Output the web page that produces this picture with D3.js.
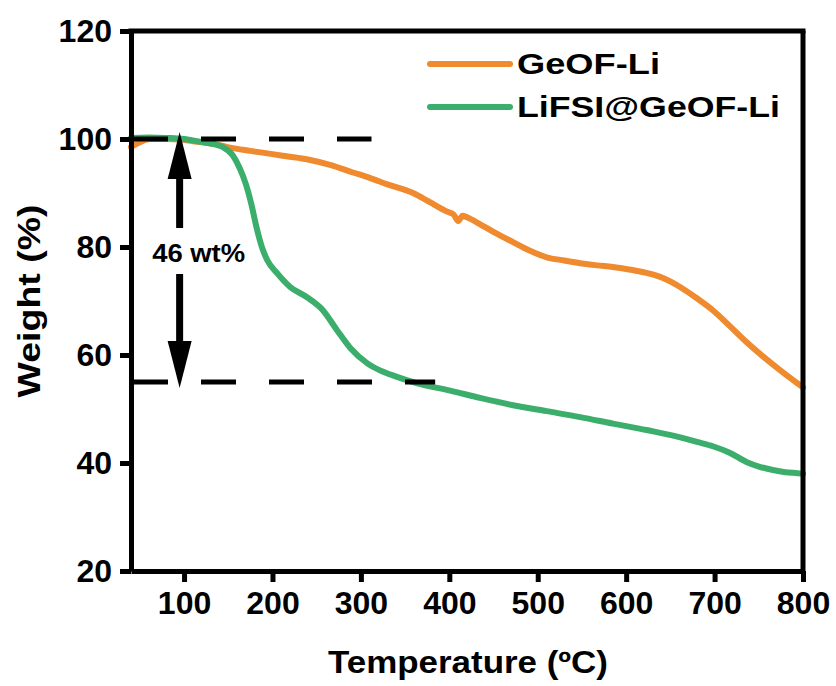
<!DOCTYPE html>
<html><head><meta charset="utf-8">
<script src="https://cdn.jsdelivr.net/npm/d3@7"></script>
<style>body{margin:0;background:#fff}svg{display:block}text{font-family:"Liberation Sans",Arial,sans-serif;font-weight:bold}</style>
</head><body><svg id="c" width="836" height="686"></svg>
<script>
const xTicks = [100,200,300,400,500,600,700,800];
const yTicks = [20,40,60,80,100,120];
const seriesNames = ["GeOF-Li","LiFSI@GeOF-Li"];
const seriesColors = ["#EF8A2E","#3CAE6C"];
const geofT = [40,50,61,80,95,110,125,137,152,175,200,216,240,265,291,310,330,359,378,397,405,410,415,420,434,452,472,490,510,530,548,567,585,605,623,641,661,680,698,717,736,755,774,790,800];
const geofW = [98.5,99.4,100.0,100.0,99.9,99.6,99.3,99.0,98.4,97.8,97.2,96.8,96.2,95.2,93.8,92.8,91.6,90.0,88.3,86.6,86.0,84.8,85.8,85.5,84.3,82.6,80.9,79.4,78.1,77.5,77.0,76.6,76.3,75.8,75.2,74.3,72.6,70.5,68.3,65.4,62.4,59.7,57.2,55.2,54.0];
const lifsiT = [40,60,80,100,118,135,144,155,163,170,176,182,188,194,205,220,239,257,273,288,307,321,340,363,401,436,472,510,548,585,623,660,680,698,717,736,751,766,780,794,800];
const lifsiW = [100.2,100.3,100.2,100.0,99.5,99.0,98.5,97.0,94.6,91.6,88.0,83.6,80.0,77.6,75.2,72.6,70.7,68.3,64.6,61.3,58.5,57.2,56.0,54.8,53.4,52.0,50.7,49.6,48.5,47.3,46.1,44.8,43.9,43.1,41.9,40.2,39.3,38.7,38.3,38.1,38.0];
const dashTop = {t:[40,312], w:100};
const dashBottom = {t:[40,384], w:55};
const arrowT = 95, arrowFrom = 100, arrowTo = 55;
const lossLabel = "46 wt%";

const svg = d3.select("#c");
const m = {l:131,r:33,t:31,b:115};
const W = 836-m.l-m.r, H = 686-m.t-m.b;
const x = d3.scaleLinear().domain([40,800]).range([m.l, m.l+W]);
const y = d3.scaleLinear().domain([20,120]).range([m.t+H, m.t]);

// text placed at (px,py), rotated by rot, stretched horizontally to target width
function fitText(parent, str, px, py, size, target, anchor, rot){
  const t = parent.append("text").attr("font-size",size).attr("text-anchor",anchor||"start").text(str);
  const w = t.node().getComputedTextLength();
  const s = target / w;
  t.attr("transform",`translate(${px},${py})${rot?` rotate(${rot})`:""} scale(${s},1)`);
  return t;
}

// series
const line = d3.line().curve(d3.curveMonotoneX).x(d=>x(d[0])).y(d=>y(d[1]));
const data = [d3.zip(geofT, geofW), d3.zip(lifsiT, lifsiW)];
svg.append("g").selectAll("path").data(data).join("path")
  .attr("d", line).attr("fill","none").attr("stroke",(d,i)=>seriesColors[i])
  .attr("stroke-width",6).attr("stroke-linejoin","round").attr("stroke-linecap","round");

// dashed guide lines
[dashTop, dashBottom].forEach(d=>{
  svg.append("line").attr("x1",x(d.t[0])).attr("x2",x(d.t[1])).attr("y1",y(d.w)).attr("y2",y(d.w))
    .attr("stroke","#000").attr("stroke-width",5).attr("stroke-dasharray","35,33").attr("stroke-dashoffset",-2);
});

// arrow
const ax = x(arrowT);
const yTop = y(arrowFrom)-7, yBot = y(arrowTo)+6;
const headH = 47, headW = 12;
svg.append("path").attr("d",`M${ax},${yTop} L${ax-headW},${yTop+headH} L${ax+headW},${yTop+headH} Z`).attr("fill","#000");
svg.append("path").attr("d",`M${ax},${yBot} L${ax-headW},${yBot-headH} L${ax+headW},${yBot-headH} Z`).attr("fill","#000");
svg.append("line").attr("x1",ax).attr("x2",ax).attr("y1",yTop+headH-1).attr("y2",228).attr("stroke","#000").attr("stroke-width",7);
svg.append("line").attr("x1",ax).attr("x2",ax).attr("y1",274).attr("y2",yBot-headH+1).attr("stroke","#000").attr("stroke-width",7);
fitText(svg, lossLabel, ax+19, 262, 26.5, 93, "middle");

// axes
const xa = svg.append("g").attr("transform",`translate(0,${m.t+H})`)
  .call(d3.axisBottom(x).tickValues(xTicks).tickSize(11).tickPadding(9).tickSizeOuter(0));
const ya = svg.append("g").attr("transform",`translate(${m.l},0)`)
  .call(d3.axisLeft(y).tickValues(yTicks).tickSize(11).tickPadding(8).tickSizeOuter(0));
[xa,ya].forEach(g=>{
  g.select(".domain").attr("stroke-width",5).attr("stroke","#000");
  g.selectAll(".tick line").attr("stroke-width",5).attr("stroke","#000");
  g.selectAll(".tick text").attr("font-size",32).attr("fill","#000")
    .style("font-family",'"Liberation Sans",Arial,sans-serif').style("font-weight","bold");
});
// frame top & right
svg.append("line").attr("x1",m.l-2.5).attr("x2",m.l+W+2.5).attr("y1",m.t).attr("y2",m.t).attr("stroke","#000").attr("stroke-width",5);
svg.append("line").attr("x1",m.l+W).attr("x2",m.l+W).attr("y1",m.t).attr("y2",m.t+H).attr("stroke","#000").attr("stroke-width",5);

// titles
fitText(svg, "Temperature (ºC)", 468, 673, 30.5, 280, "middle");
fitText(svg, "Weight (%)", 40, 301, 30.5, 193, "middle", -90);

// legend
const legendLens = [143,263];
const lg = svg.append("g");
seriesNames.forEach((n,i)=>{
  const ly = 64 + i*43;
  lg.append("line").attr("x1",430).attr("x2",510).attr("y1",ly).attr("y2",ly).attr("stroke",seriesColors[i]).attr("stroke-width",6).attr("stroke-linecap","round");
  fitText(lg, n, 517, ly+10, 29.5, legendLens[i], "start");
});
</script></body></html>
